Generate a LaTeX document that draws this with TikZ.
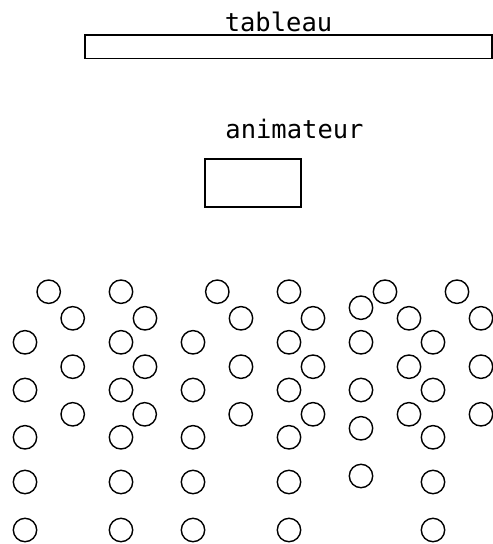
\documentclass[tikz,border=0pt]{standalone}
\usepackage{fontspec}
\newfontfamily\labelfont{DejaVu Sans Mono}
\begin{document}
\begin{tikzpicture}[x=1pt,y=-1pt,
  seat/.style={circle,draw,line width=1.4pt,minimum size=23.4pt,inner sep=0pt},
  furniture/.style={rectangle,draw,line width=1.5pt,inner sep=0pt},
  caption/.style={anchor=base,inner sep=0pt,font=\labelfont\fontsize{25.5}{30}\selectfont}]
\useasboundingbox (0,0) rectangle (493,544);
\node[furniture,minimum width=407pt,minimum height=23.5pt] (board) at (288.6,46.5) {};
\node[caption] (boardlabel) at (278.5,31) {tableau};
\node[furniture,minimum width=96pt,minimum height=48pt] (desk) at (253,183) {};
\node[caption] (desklabel) at (294.5,138) {animateur};
\foreach \x/\y [count=\i] in {
  48.7/291.7,121/291.7,217.3/291.7,289/291.7,385/291.7,457/291.7,
  72.7/318.3,145/318.3,241/318.3,313/318.3,409/318.3,481/318.3,
  361/307.7,
  25/342.3,121/342.3,193/342.3,289/342.3,361/342.3,433/342.3,
  72.7/366.7,145/366.7,241/366.7,313/366.7,409/366.7,481/366.7,
  25/390,121/390,193/390,289/390,361/390,433/390,
  72.7/414.3,144.7/414.3,240.7/414.3,313/414.3,409/414.3,481/414.3,
  361/428.3,
  25/437.3,121/437.3,193/437.3,289/437.3,433/437.3,
  361/476,
  25/482,121/482,193/482,289/482,433/482,
  25/530,121/530,193/530,289/530,433/530}
  \node[seat] (s\i) at (\x,\y) {};
\end{tikzpicture}
\end{document}
